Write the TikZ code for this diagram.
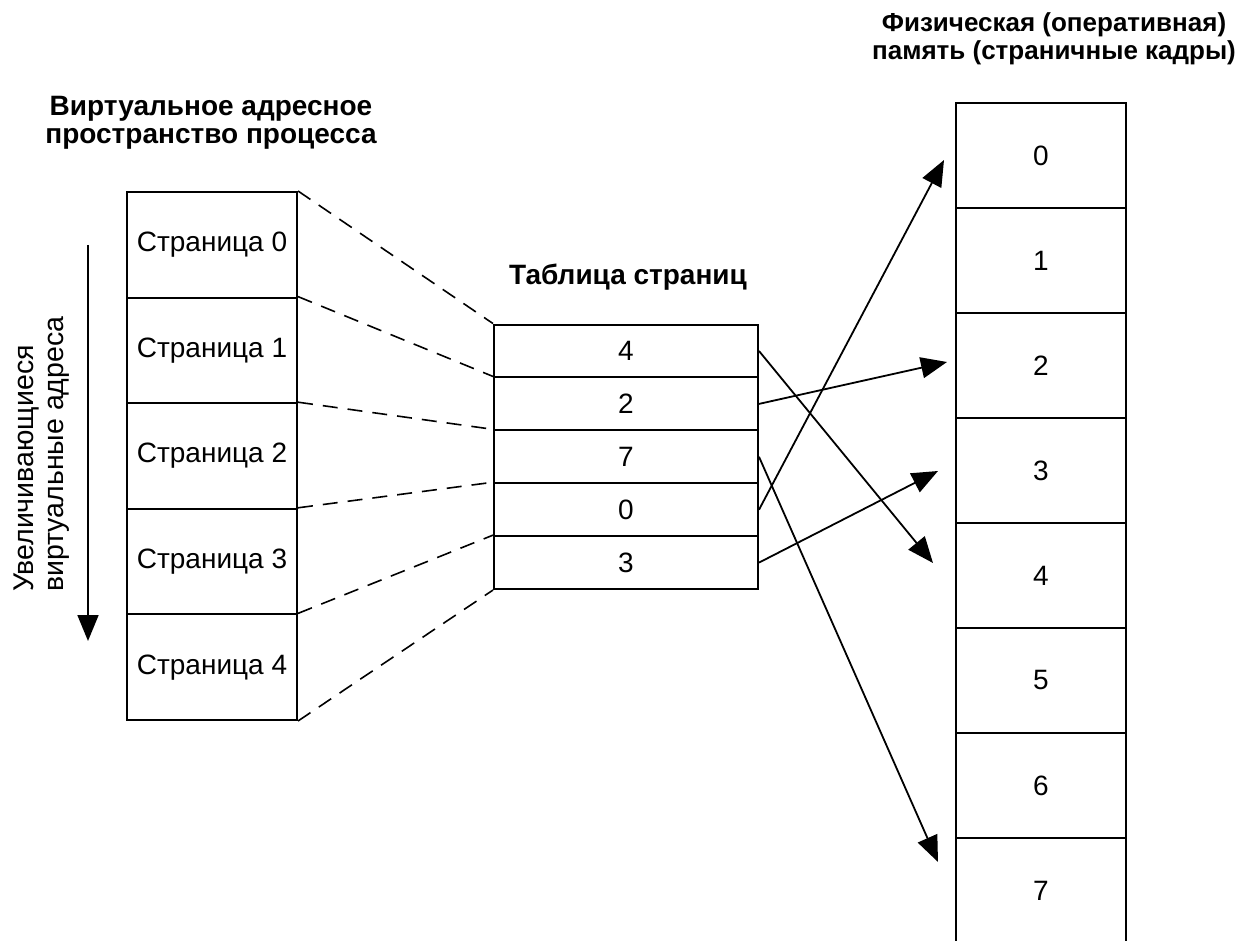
\documentclass[tikz,border=0pt]{standalone}
\usepackage{fontspec}
\setmainfont{Liberation Sans}
\usetikzlibrary{arrows.meta,calc}
\begin{document}
\begin{tikzpicture}[x=1pt,y=-1pt,
  txt/.style={font=\fontsize{28}{31}\selectfont},
  rtxt/.style={font=\fontsize{28.5}{31}\selectfont},
  cell/.style={draw, line width=2pt, minimum width=170pt, minimum height=105.6pt, inner sep=0pt, txt},
  mcell/.style={draw, line width=2pt, minimum width=170pt, minimum height=105pt, inner sep=0pt, txt},
  tcell/.style={draw, line width=2pt, minimum width=264pt, minimum height=52.9pt, inner sep=0pt, txt},
  title/.style={font=\bfseries\fontsize{28}{28}\selectfont, align=center, inner sep=0pt},
  dline/.style={line width=1.6pt, dash pattern=on 15pt off 10pt},
  map/.style={line width=1.8pt, -{Triangle[length=26pt,width=21pt]}},
]
\useasboundingbox (0,0) rectangle (1248,941);

% titles (anchor base = baseline of last line)
\node[title, anchor=base] (ttlv) at (211,143.5) {Виртуальное адресное\\пространство процесса};
\node[title, anchor=base] (ttlt) at (628,285) {Таблица страниц};
\node[title, anchor=base, font=\bfseries\fontsize{26}{28}\selectfont] (ttlm) at (1054,60) {Физическая (оперативная)\\память (страничные кадры)};

% virtual pages
\node[cell] (v0) at (212,244.8) {Страница 0};
\node[cell] (v1) at (212,350.4) {Страница 1};
\node[cell] (v2) at (212,456.0) {Страница 2};
\node[cell] (v3) at (212,561.6) {Страница 3};
\node[cell] (v4) at (212,667.2) {Страница 4};

% page table
\node[tcell] (t0) at (626,351.0) {4};
\node[tcell] (t1) at (626,403.9) {2};
\node[tcell] (t2) at (626,456.8) {7};
\node[tcell] (t3) at (626,509.7) {0};
\node[tcell] (t4) at (626,562.6) {3};

% physical frames
\node[mcell] (m0) at (1041,155.5) {0};
\node[mcell] (m1) at (1041,260.5) {1};
\node[mcell] (m2) at (1041,365.5) {2};
\node[mcell] (m3) at (1041,470.5) {3};
\node[mcell] (m4) at (1041,575.5) {4};
\node[mcell] (m5) at (1041,680.5) {5};
\node[mcell] (m6) at (1041,785.5) {6};
\node[mcell, draw=none, outer sep=0pt] (m7) at (1041,890.5) {7};
\draw[line width=2pt] (m7.south west) -- (m7.north west);
\draw[line width=2pt] (m7.north east) -- (m7.south east);

% dashed projections
\draw[dline] (v0.north east) -- (t0.north west);
\draw[dline] (v1.north east) -- (t1.north west);
\draw[dline] (v2.north east) -- (t2.north west);
\draw[dline] (v3.north east) -- (t3.north west);
\draw[dline] (v4.north east) -- (t4.north west);
\draw[dline] (v4.south east) -- (t4.south west);

% mapping arrows
\coordinate (f0) at (944,160);
\coordinate (f2) at (947,362);
\coordinate (f3) at (938,471);
\coordinate (f4) at (933,563);
\coordinate (f7) at (938,862);
\draw[map] (t0.east) -- (f4);
\draw[map] (t1.east) -- (f2);
\draw[map] (t2.east) -- (f7);
\draw[map] (t3.east) -- (f0);
\draw[map] (t4.east) -- (f3);

% increasing addresses
\coordinate (ya) at (88,245);
\coordinate (yb) at (88,641);
\draw[map] (ya) -- (yb);
\node[rtxt, rotate=90, anchor=base west, inner sep=0pt] (lab1) at (34,592) {Увеличивающиеся};
\node[rtxt, rotate=90, anchor=base west, inner sep=0pt] (lab2) at (63,592) {виртуальные адреса};
\end{tikzpicture}
\end{document}
